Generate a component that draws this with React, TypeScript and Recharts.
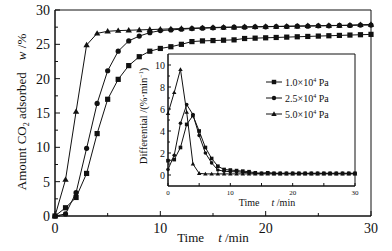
import React from 'react';
import { LineChart, Line, XAxis, YAxis, ReferenceArea, Legend } from 'recharts';

const times = [0,1,2,3,4,5,6,7,8,9,10,11,12,13,14,15,16,17,18,19,20,21,22,23,24,25,26,27,28,29,30];

// Main chart: amount adsorbed w /%
const w10 = [0,1.2,2.7,6.2,12.0,17.0,19.9,21.9,23.2,24.0,24.4,24.65,25.0,25.4,25.5,25.55,25.6,25.65,25.85,25.9,25.95,26.0,26.05,26.1,26.15,26.2,26.25,26.3,26.35,26.4,26.45];
const w25 = [0,0.3,3.4,9.85,16.4,21.15,24.0,25.5,26.2,26.7,27.0,27.1,27.2,27.3,27.35,27.4,27.45,27.5,27.5,27.55,27.55,27.6,27.6,27.65,27.65,27.7,27.7,27.75,27.75,27.8,27.8];
const w50 = [0,5.3,15.2,24.9,26.6,26.9,27.0,27.05,27.1,27.15,27.2,27.25,27.3,27.35,27.4,27.45,27.5,27.5,27.55,27.55,27.6,27.6,27.65,27.65,27.7,27.7,27.75,27.75,27.8,27.85,27.9];

// Inset: differential /(%·min^-1)
const d10 = [1.3,1.4,2.5,4.6,5.4,4.0,2.5,1.5,0.8,0.5,0.45,0.4,0.35,0.3,0.2,0.15,0.2,0.15,0.15,0.15,0.15,0.15,0.15,0.15,0.15,0.15,0.15,0.15,0.15,0.15,0.15];
const d25 = [0.5,1.8,4.7,6.4,5.5,3.6,2.0,1.1,0.45,0.35,0.3,0.3,0.25,0.2,0.15,0.15,0.2,0.15,0.15,0.15,0.15,0.15,0.15,0.15,0.15,0.15,0.15,0.15,0.15,0.15,0.15];
const d50 = [5.6,7.5,9.6,5.7,1.0,0.15,0.1,0.1,0.1,0.1,0.1,0.1,0.1,0.1,0.1,0.1,0.1,0.1,0.1,0.1,0.1,0.1,0.1,0.1,0.1,0.1,0.1,0.1,0.1,0.1,0.1];

const seriesNames = ['1.0×10⁴ Pa', '2.5×10⁴ Pa', '5.0×10⁴ Pa'];
const seriesKeys = ['s10', 's25', 's50'];

const mainXTicks = [0,5,10,15,20,25,30];
const mainYTicks = [0,2.5,5,7.5,10,12.5,15,17.5,20,22.5,25,27.5,30];
const insetXTicks = [0,5,10,15,20,25,30];
const insetYTicks = [0,1,2,3,4,5,6,7,8,9,10];

const mainData = times.map((t, i) => ({ t, s10: w10[i], s25: w25[i], s50: w50[i] }));
const insetData = times.map((t, i) => ({ t, s10: d10[i], s25: d25[i], s50: d50[i] }));

const FONT = '"Liberation Serif", "Times New Roman", serif';
const INK = '#111';

const markerFor = (key: string, cx: number, cy: number, k: any, s = 1) => {
  if (cx == null || cy == null || isNaN(cx) || isNaN(cy)) return <g key={k} />;
  if (key === 's10') {
    const h = 2.6 * s;
    return <rect key={k} x={cx - h} y={cy - h} width={2 * h} height={2 * h} fill={INK} />;
  }
  if (key === 's25') {
    return <circle key={k} cx={cx} cy={cy} r={2.6 * s} fill={INK} />;
  }
  const a = 3.2 * s;
  return <path key={k} d={`M${cx},${cy - a} L${cx + a},${cy + a * 0.7} L${cx - a},${cy + a * 0.7} Z`} fill={INK} />;
};

const dotRenderer = (key: string, s = 1) => (p: any) => markerFor(key, p.cx, p.cy, `${key}-${p.index}`, s);

const mainXTick = (p: any) => {
  const v = p.payload.value;
  const major = v % 10 === 0;
  return (
    <g>
      <line x1={p.x} x2={p.x} y1={p.y} y2={p.y - (major ? 5 : 3)} stroke={INK} />
      {major && (
        <text x={p.x} y={p.y + 17} textAnchor="middle" fontSize={14} fontFamily={FONT} fill={INK}>{v}</text>
      )}
    </g>
  );
};

const mainYTick = (p: any) => {
  const v = p.payload.value;
  const major = v % 5 === 0;
  return (
    <g>
      <line x1={p.x} x2={p.x + (major ? 5 : 3)} y1={p.y} y2={p.y} stroke={INK} />
      {major && (
        <text x={p.x - 5} y={p.y + 5} textAnchor="end" fontSize={14} fontFamily={FONT} fill={INK}>{v}</text>
      )}
    </g>
  );
};

const insetXTick = (p: any) => {
  const v = p.payload.value;
  const major = v % 10 === 0;
  return (
    <g>
      <line x1={p.x} x2={p.x} y1={p.y} y2={p.y - 3} stroke={INK} />
      {major && (
        <text x={p.x} y={p.y + 9} textAnchor="middle" fontSize={7} fontFamily={FONT} fill={INK}>{v}</text>
      )}
    </g>
  );
};

const insetYTick = (p: any) => {
  const v = p.payload.value;
  const major = v % 2 === 0;
  return (
    <g>
      <line x1={p.x} x2={p.x + (major ? 3 : 2)} y1={p.y} y2={p.y} stroke={INK} />
      {major && (
        <text x={p.x - 3} y={p.y + 3.5} textAnchor="end" fontSize={10} fontFamily={FONT} fill={INK}>{v}</text>
      )}
    </g>
  );
};

const renderLegend = (props: any) => {
  const payload = props.payload || [];
  return (
    <svg width={110} height={50} style={{ overflow: 'visible' }}>
      {payload.map((e: any, i: number) => {
        const y = 8 + i * 16;
        const key = e.dataKey;
        return (
          <g key={key}>
            <line x1={0} x2={16} y1={y} y2={y} stroke={INK} strokeWidth={1} />
            {markerFor(key, 8, y, 'm' + i, 0.85)}
            <text x={19} y={y + 3.5} fontSize={10} fontFamily={FONT} fill={INK}>
              {e.value.split('×')[0]}×10<tspan fontSize={6} dy={-4}>4</tspan>
              <tspan dy={4}> Pa</tspan>
            </text>
          </g>
        );
      })}
    </svg>
  );
};

export default function App() {
  return (
    <div style={{ position: 'absolute', left: 0, top: 0, width: 392, height: 251, background: '#fff' }}>
      <div style={{ position: 'absolute', left: 0, top: 0 }}>
        <LineChart width={392} height={251} data={mainData} margin={{ top: 10, right: 21, left: 0, bottom: 0 }}>
          <XAxis dataKey="t" type="number" domain={[0, 30]} ticks={mainXTicks} height={35}
            tickSize={0} tickMargin={0} tickLine={false} tick={mainXTick} axisLine={{ stroke: INK }} interval={0} />
          <YAxis type="number" domain={[0, 30]} ticks={mainYTicks} width={55}
            tickSize={0} tickMargin={0} tickLine={false} tick={mainYTick} axisLine={{ stroke: INK }} interval={0} />
          <ReferenceArea x1={0} x2={30} y1={0} y2={30} fill="none" stroke={INK} strokeWidth={1} ifOverflow="visible" />
          {seriesKeys.map((k, i) => (
            <Line key={k} dataKey={k} name={seriesNames[i]} stroke={INK} strokeWidth={1}
              dot={dotRenderer(k)} activeDot={false} isAnimationActive={false} />
          ))}
        </LineChart>
        <svg width={392} height={251} style={{ position: 'absolute', left: 0, top: 0, pointerEvents: 'none' }}>
          <text transform="translate(26,112) rotate(-90)" textAnchor="middle" fontSize={13} fontFamily={FONT} fill={INK}>
            Amount CO<tspan fontSize={8} dy={3}>2</tspan><tspan dy={-3}> adsorbed</tspan>
            <tspan dx={12} fontStyle="italic">w</tspan><tspan> /%</tspan>
          </text>
          <text x={213} y={242} textAnchor="middle" fontSize={13} fontFamily={FONT} fill={INK}>
            Time<tspan dx={14} fontStyle="italic">t</tspan><tspan> /min</tspan>
          </text>
        </svg>
      </div>
      <div style={{ position: 'absolute', left: 130, top: 50 }}>
        <LineChart width={240} height={165} data={insetData} margin={{ top: 4, right: 15, left: 0, bottom: 0 }}>
          <XAxis dataKey="t" type="number" domain={[0, 30]} ticks={insetXTicks} height={29}
            tickSize={0} tickMargin={0} tickLine={false} tick={insetXTick} axisLine={{ stroke: INK }} interval={0} />
          <YAxis type="number" domain={[-1, 11]} ticks={insetYTicks} width={38}
            tickSize={0} tickMargin={0} tickLine={false} tick={insetYTick} axisLine={{ stroke: INK }} interval={0} />
          <ReferenceArea x1={0} x2={30} y1={-1} y2={11} fill="none" stroke={INK} strokeWidth={1} ifOverflow="visible" />
          {seriesKeys.map((k, i) => (
            <Line key={k} dataKey={k} name={seriesNames[i]} stroke={INK} strokeWidth={1}
              dot={dotRenderer(k, 0.7)} activeDot={false} isAnimationActive={false} />
          ))}
          <Legend layout="horizontal" verticalAlign="middle" align="center" content={renderLegend}
            wrapperStyle={{ left: 136, top: 24, width: 110, height: 50 }} />
        </LineChart>
        <svg width={240} height={165} style={{ position: 'absolute', left: 0, top: 0, pointerEvents: 'none' }}>
          <text transform="translate(17,66) rotate(-90)" textAnchor="middle" fontSize={10.5} fontFamily={FONT} fill={INK}>
            Differential /(%·min<tspan fontSize={6} dy={-4}>−1</tspan><tspan dy={4}>)</tspan>
          </text>
          <text x={137} y={156} textAnchor="middle" fontSize={10} fontFamily={FONT} fill={INK}>
            Time<tspan dx={12} fontStyle="italic">t</tspan><tspan> /min</tspan>
          </text>
        </svg>
      </div>
    </div>
  );
}
